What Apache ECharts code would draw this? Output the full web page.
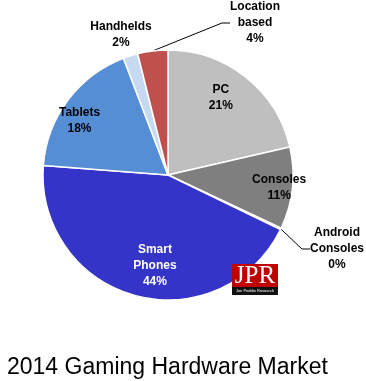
<!DOCTYPE html>
<html><head><meta charset="utf-8">
<script src="https://cdn.jsdelivr.net/npm/echarts@6/dist/echarts.min.js"></script>
<style>html,body{margin:0;padding:0;background:#fff}#c{width:366px;height:381px}</style>
</head><body><div id="c"></div>
<script>
const categories = ['PC','Consoles','Android\nConsoles','Smart\nPhones','Tablets','Handhelds','Location\nbased'];
const shares = [21.4, 10.6, 0.2, 44.0, 18.0, 1.9, 3.9];
const colors = ['#bfbfbf','#7f7f7f','#7f7f7f','#3434c8','#558ed5','#c6d9f1','#c0504d'];
const titleText = '2014 Gaming Hardware Market';

// label placement (layout only)
const insideShift = {0:[12,-26],1:[46,6],3:[4,27],4:[-36,-15]};
const outsidePos = {2:[337,249],5:[121,35],6:[255,23]};

const chart = echarts.init(document.getElementById('c'), null, {renderer:'canvas'});
const FONT = '"Liberation Sans",Arial,sans-serif';
chart.setOption({
  animation:false,
  title:{text:titleText,left:2,top:351,textStyle:{fontFamily:'"Liberation Sans",Arial,sans-serif',fontWeight:'normal',fontSize:23,color:'#000'}},
  series:[{
    type:'pie',
    center:[168,175],
    radius:[0,125],
    startAngle:90,
    clockwise:true,
    avoidLabelOverlap:false,
    itemStyle:{borderColor:'#fff',borderWidth:1.5},
    label:{
      fontFamily:FONT,fontWeight:'bold',fontSize:12,lineHeight:16,color:'#000',
      formatter:p=>p.name+'\n'+Math.round(p.value)+'%'
    },
    labelLine:{lineStyle:{color:'#000',width:1},length:10,length2:8},
    labelLayout:function(p){
      const i=p.dataIndex;
      if(insideShift[i]) return {dx:insideShift[i][0],dy:insideShift[i][1]};
      if(outsidePos[i]) return {x:outsidePos[i][0],y:outsidePos[i][1],align:'center',verticalAlign:'middle'};
      return {};
    },
    data:categories.map((n,i)=>{
      const inside = insideShift[i]!==undefined;
      return {
        name:n,value:shares[i],
        itemStyle:{color:colors[i]},
        label:{position:inside?'inside':'outside',color:i===3?'#fff':'#000'},
        labelLine:{show:!inside && i!==5}
      };
    })
  }],
  graphic:[
    {type:'rect',z:100,left:232,top:264,shape:{width:46,height:23},style:{fill:'#c00000'}},
    {type:'rect',z:100,left:232,top:287,shape:{width:46,height:8},style:{fill:'#111'}},
    {type:'text',z:101,x:255,y:276,style:{text:'JPR',fill:'#fff',align:'center',verticalAlign:'middle',font:'25px "Liberation Serif","DejaVu Serif",serif'}},
    {type:'text',z:101,x:255,y:291,style:{text:'Jon Peddie Research',fill:'#fff',align:'center',verticalAlign:'middle',font:'4px "Liberation Sans",sans-serif'}}
  ]
});
</script></body></html>
